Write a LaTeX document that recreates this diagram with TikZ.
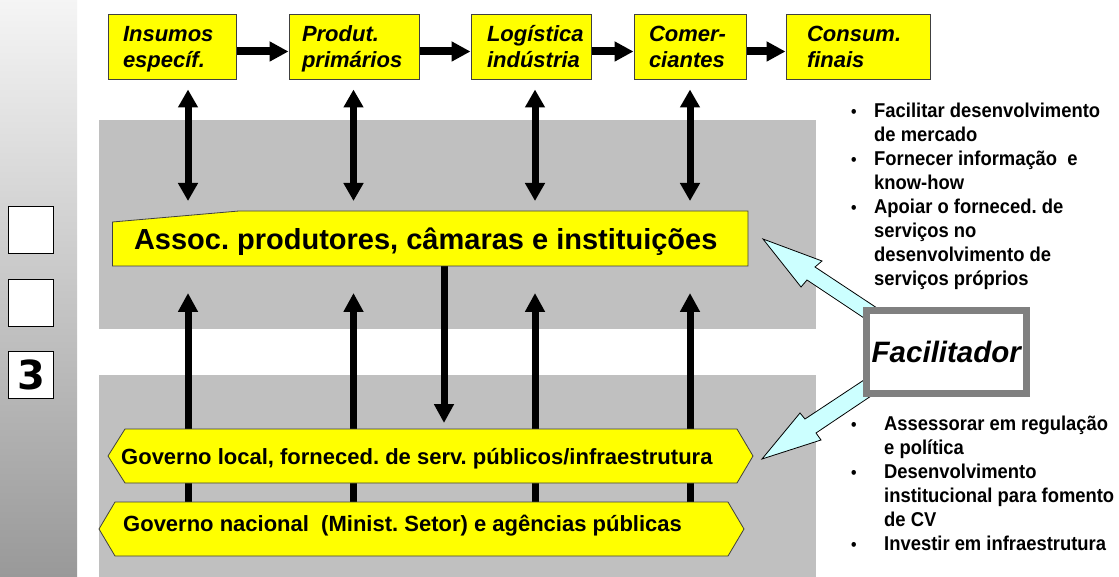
\documentclass[tikz,border=0pt]{standalone}
\usepackage{fontspec}
\setmainfont{Liberation Sans}
\newfontfamily\narrowfont[FakeStretch=0.92]{Liberation Sans}
\newfontfamily\digitfont{DejaVu Sans}
\usetikzlibrary{arrows.meta}
\frenchspacing
\definecolor{boxyellow}{RGB}{255,255,0}
\definecolor{panelgray}{RGB}{192,192,192}
\definecolor{arrowcyan}{RGB}{204,255,255}
\definecolor{facgray}{RGB}{128,128,128}
\tikzset{
  flowbox/.style={draw=black!75, line width=1pt, fill=boxyellow, minimum height=65pt, align=left,
    font=\fontsize{22}{26}\selectfont\bfseries\itshape,
    execute at begin node={\rule{0pt}{20pt}}, execute at end node={\rule[-5pt]{0pt}{5pt}}},
  flowarrow/.style={line width=8pt, -{Triangle[length=19pt,width=19pt]}},
  linkarrow/.style={line width=7pt, {Triangle[length=18pt,width=19pt]}-{Triangle[length=18pt,width=19pt]}},
  uparrow/.style={line width=7pt, -{Triangle[length=19pt,width=19pt]}},
  yellowshape/.style={draw=black!75, line width=0.8pt, fill=boxyellow},
  core/.style={inner sep=0pt, outer sep=0pt},
  govtext/.style={anchor=base west, inner sep=0pt, font=\fontsize{22}{26}\selectfont\bfseries},
  cyanarrow/.style={draw=black, line width=0.8pt, fill=arrowcyan, line join=miter},
  sidebox/.style={draw=black, line width=1pt, fill=white, minimum width=45pt, minimum height=47pt, inner sep=0pt},
  facbox/.style={draw=facgray, line width=7pt, fill=white, minimum width=160pt, minimum height=83pt, inner sep=0pt,
    font=\fontsize{29.5}{30}\selectfont\bfseries\itshape},
  bullets/.style={anchor=north west, inner sep=0pt, font=\narrowfont\fontsize{20}{24}\selectfont\bfseries},
}
\begin{document}
\begin{tikzpicture}[x=1pt, y=-1pt]
\useasboundingbox (0,0) rectangle (1119,577);
\fill[white] (0,0) rectangle (1119,577);
% side bar with the step boxes
\shade[top color=white!96!black, bottom color=black!40] (0,0) rectangle (77,577);
\node[sidebox] (step1) at (31,230.5) {};
\node[sidebox] (step2) at (31,303) {};
\node[sidebox, font=\digitfont\bfseries\fontsize{40}{40}\selectfont] (step3) at (31,375) {3};
% gray panels
\fill[panelgray] (99,120) rectangle (816,329);
\fill[panelgray] (99,375) rectangle (816,577);
% core areas of the institution boxes
\node[core, minimum width=635.5pt, minimum height=55pt] (assoc) at (430.25,238.5) {};
\node[core, minimum width=612pt, minimum height=54pt] (govlocal) at (431,456) {};
\node[core, minimum width=613pt, minimum height=54pt] (govnac) at (421.5,529) {};
\coordinate (col1) at (188,0);
\coordinate (col2) at (353.5,0);
\coordinate (col3) at (535,0);
\coordinate (col4) at (690,0);
\coordinate (col5) at (444,0);
% arrows behind the boxes
\foreach \c in {col1,col2,col3,col4}
  \draw[uparrow, shorten >=27pt] (govnac -| \c) -- (assoc.south -| \c);
\draw[uparrow, shorten >=6pt] (assoc.south -| col5) -- (govlocal.north -| col5);
% facilitator arrows
\draw[cyanarrow] (763,239) -- (822,261) -- (815,267) -- (880,310) -- (870,322) -- (807,280) -- (801,287) -- cycle;
\draw[cyanarrow] (762,459) -- (800,413) -- (805,419) -- (870,376) -- (877,392) -- (816,433) -- (821,440) -- cycle;
% institution boxes
\draw[yellowshape] (assoc.south west) -- ([yshift=-11pt]assoc.north west) -- ([xshift=126.5pt]assoc.north west)
  -- (assoc.north east) -- (assoc.south east) -- cycle;
\node[anchor=base, inner sep=0pt, font=\fontsize{29}{30}\selectfont\bfseries] (assoctext)
  at ([xshift=-4.5pt,yshift=16pt]assoc.south) {Assoc. produtores, câmaras e instituições};
\draw[yellowshape] (govlocal.north west) -- (govlocal.north east) -- ([xshift=16pt]govlocal.east)
  -- (govlocal.south east) -- (govlocal.south west) -- ([xshift=-17pt]govlocal.west) -- cycle;
\node[govtext] (govlocaltext) at ([xshift=-4pt,yshift=-8pt]govlocal.west)
  {Governo local, forneced. de serv. públicos/infraestrutura};
\draw[yellowshape] (govnac.north west) -- (govnac.north east) -- ([xshift=16pt]govnac.east)
  -- (govnac.south east) -- (govnac.south west) -- ([xshift=-16pt]govnac.west) -- cycle;
\node[govtext] (govnactext) at ([xshift=8pt,yshift=-2pt]govnac.west)
  {Governo nacional\ \ (Minist. Setor) e agências públicas};
% value chain
\node[flowbox, text width=98pt, inner xsep=15pt] (ins) at (172,47.5) {Insumos\\específ.};
\node[flowbox, text width=104pt, inner xsep=13pt] (prod) at (354,47.5) {Produt.\\primários};
\node[flowbox, text width=88pt, inner xsep=16pt] (log) at (531,47.5) {Logística\\indústria};
\node[flowbox, text width=82pt, inner xsep=15pt] (com) at (690,47.5) {Comer-\\ciantes};
\node[flowbox, text width=102pt, inner xsep=21pt] (cons) at (858,47.5) {Consum.\\finais};
\draw[flowarrow] ([yshift=-4pt]ins.east) -- ([yshift=-4pt]prod.west);
\draw[flowarrow] ([yshift=-4pt]prod.east) -- ([yshift=-4pt]log.west);
\draw[flowarrow] ([yshift=-4pt]log.east) -- ([yshift=-4pt]com.west);
\draw[flowarrow] ([yshift=-4pt]com.east) -- ([yshift=-4pt]cons.west);
\foreach \n/\c in {ins/col1,prod/col2,log/col3,com/col4}
  \draw[linkarrow, shorten <=9pt, shorten >=10pt] (\n.south -| \c) -- (assoc.north -| \c);
% facilitator and its tasks
\node[facbox] (fac) at (946.3,352) {Facilitador};
\node[bullets] (tasks) at (851,101) {\begin{tabular}{@{}p{23pt}@{}l@{}}
  {\fontsize{17}{17}\selectfont\textbullet} & Facilitar desenvolvimento\\
  & de mercado\\
  {\fontsize{17}{17}\selectfont\textbullet} & Fornecer informação\ \ e\\
  & know-how\\
  {\fontsize{17}{17}\selectfont\textbullet} & Apoiar o forneced. de\\
  & serviços no\\
  & desenvolvimento de\\
  & serviços próprios
\end{tabular}};
\node[bullets] (advice) at (851,413) {\begin{tabular}{@{}p{33pt}@{}l@{}}
  {\fontsize{17}{17}\selectfont\textbullet} & Assessorar em regulação\\
  & e política\\
  {\fontsize{17}{17}\selectfont\textbullet} & Desenvolvimento\\
  & institucional para fomento\\
  & de CV\\
  {\fontsize{17}{17}\selectfont\textbullet} & Investir em infraestrutura
\end{tabular}};
\end{tikzpicture}
\end{document}
